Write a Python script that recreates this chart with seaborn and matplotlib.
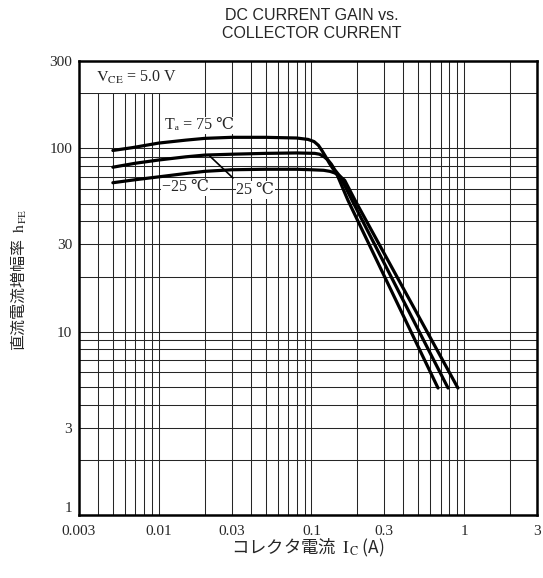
import numpy as np
import pandas as pd
import seaborn as sns
import matplotlib.pyplot as plt
from matplotlib import ticker

# hFE vs Ic (Ic in A)
ic_75 = [0.005, 0.0067, 0.01, 0.015, 0.02, 0.03, 0.05, 0.08, 0.095, 0.104, 0.111, 0.117, 0.124, 0.131, 0.139, 0.147, 0.173, 0.674]
hfe_75 = [97.5, 101, 107, 111, 113.5, 115, 115, 114, 112, 109, 104, 97.5, 90, 83, 77, 72, 52.3, 4.93]

ic_25 = [0.005, 0.007, 0.01, 0.015, 0.02, 0.03, 0.05, 0.08, 0.105, 0.113, 0.121, 0.128, 0.135, 0.142, 0.155, 0.184, 0.784]
hfe_25 = [79, 83, 86.5, 90, 92, 93, 94, 94.5, 94, 93, 90, 86.6, 82, 76.5, 69.8, 52.3, 4.93]

ic_m25 = [0.005, 0.007, 0.01, 0.015, 0.02, 0.03, 0.05, 0.08, 0.1, 0.12, 0.132, 0.142, 0.152, 0.165, 0.1925, 0.91]
hfe_m25 = [65, 67.5, 70, 73, 75, 76.5, 77, 77, 76.5, 76, 75, 73.5, 71, 67, 52.3, 4.93]

x_ticks = [0.003, 0.01, 0.03, 0.1, 0.3, 1, 3]
x_labels = ['0.003', '0.01', '0.03', '0.1', '0.3', '1', '3']
y_ticks = [1, 3, 10, 30, 100, 300]
y_labels = ['1', '3', '10', '30', '100', '300']

df = pd.concat([
    pd.DataFrame({'ic': ic_75, 'hfe': hfe_75, 'ta': '75'}),
    pd.DataFrame({'ic': ic_25, 'hfe': hfe_25, 'ta': '25'}),
    pd.DataFrame({'ic': ic_m25, 'hfe': hfe_m25, 'ta': '-25'}),
])

sns.set_style('white')
plt.rcParams['mathtext.fontset'] = 'stix'
serif = ['Liberation Serif', 'DejaVu Serif']
jp = ['Noto Sans CJK JP', 'DejaVu Sans']

fig = plt.figure(figsize=(5.43, 5.78), dpi=100)
ax = fig.add_axes([79/543, 1-515/578, (537-79)/543, (515-61)/578])

sns.lineplot(data=df, x='ic', y='hfe', units='ta', estimator=None, sort=False,
             color='black', lw=2.3, ax=ax, zorder=4)

ax.set_xscale('log')
ax.set_yscale('log')
ax.set_xlim(0.003, 3)
ax.set_ylim(1, 300)
ax.set_xticks(x_ticks)
ax.set_xticklabels(x_labels)
ax.set_yticks(y_ticks)
ax.set_yticklabels(y_labels)
ax.xaxis.set_minor_locator(ticker.LogLocator(base=10, subs=np.arange(2, 10), numticks=20))
ax.yaxis.set_minor_locator(ticker.LogLocator(base=10, subs=np.arange(2, 10), numticks=20))
ax.xaxis.set_minor_formatter(ticker.NullFormatter())
ax.yaxis.set_minor_formatter(ticker.NullFormatter())
ax.tick_params(which='both', length=0)
ax.tick_params(axis='x', pad=7)
ax.tick_params(axis='y', pad=5)
for lab in ax.get_xticklabels() + ax.get_yticklabels():
    lab.set_family(serif)
    lab.set_fontsize(11)
# lift the bottom "1" a little, like the original
ax.get_yticklabels()[0].set_va('bottom')

ax.set_axisbelow(True)
ax.grid(which='both', color='0.15', lw=0.75)
for s in ax.spines.values():
    s.set_linewidth(1.8)
    s.set_color('black')

ax.set_xlabel('')
ax.set_ylabel('')

# white box behind the Vce note
ax.fill_between([0.003, 0.0186], 200, 300, color='white', zorder=2, lw=0)
ax.text(0.0039, 245, r'$\mathrm{V_{CE}}$ = 5.0 V', family=serif, fontsize=11.5,
        va='center', ha='left', zorder=5)

box = dict(fc='white', ec='none', pad=0.5)
ax.text(0.0109, 134, 'Tₐ = 75 ℃', family=serif, fontsize=11.5,
        va='center', ha='left', bbox=box, zorder=5)
ax.text(0.0105, 61.5, '−25 ℃', family=serif, fontsize=11.5,
        va='center', ha='left', bbox=box, zorder=5)
ax.text(0.0322, 59.3, '25 ℃', family=serif, fontsize=11.5,
        va='center', ha='left', bbox=box, zorder=5)
ax.plot([0.0216, 0.0306], [90.8, 69], color='black', lw=1.2, zorder=5)

fig.text(312/543, 1-16/578, 'DC CURRENT GAIN vs.', family='Liberation Sans',
         fontsize=11.5, ha='center', va='center')
fig.text(312/543, 1-33/578, 'COLLECTOR CURRENT', family='Liberation Sans',
         fontsize=11.5, ha='center', va='center')

fig.text(308/543, 1-548/578, r'コレクタ電流  $\mathrm{I_C}$ (A)', family=jp,
         fontsize=12.5, ha='center', va='center')
fig.text(19/543, 1-280/578, r'直流電流増幅率  $\mathrm{h_{FE}}$', family=jp,
         fontsize=11.5, ha='center', va='center', rotation=90)

fig.savefig('out.png', dpi=100)
